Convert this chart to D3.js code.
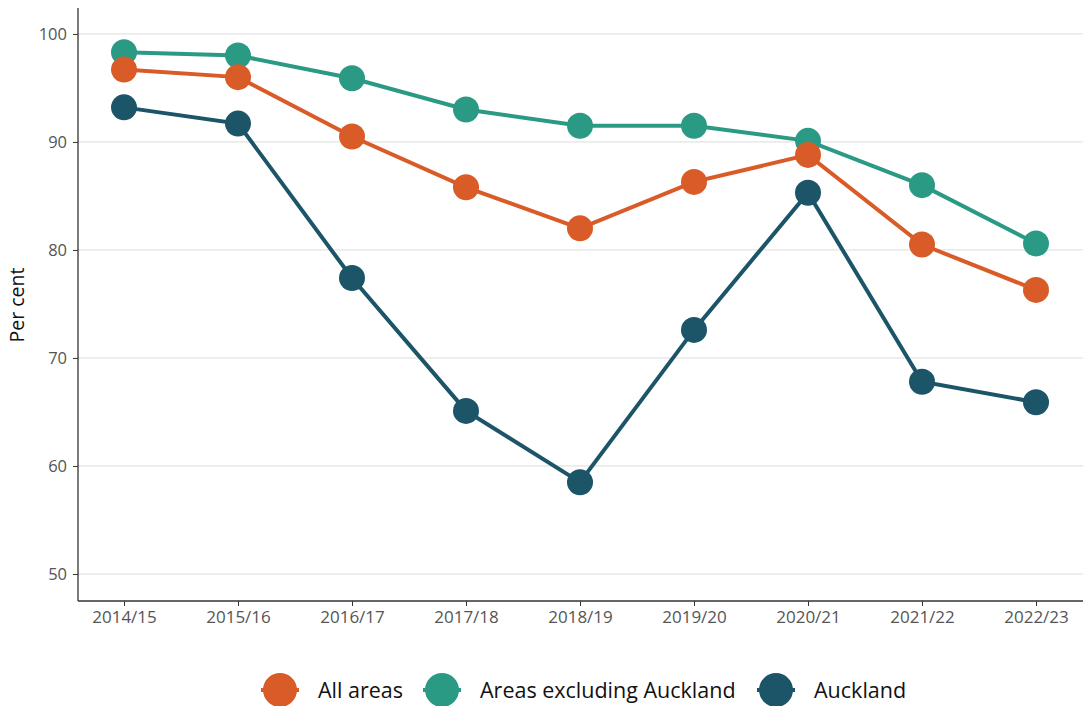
<!DOCTYPE html>
<html><head><meta charset="utf-8">
<script src="https://cdn.jsdelivr.net/npm/d3@7"></script>
<style>body{margin:0;background:#fff}svg{display:block}text{font-family:"Open Sans",sans-serif}</style>
</head><body><svg id="c" width="1083" height="706"></svg>
<script>
const categories=["2014/15","2015/16","2016/17","2017/18","2018/19","2019/20","2020/21","2021/22","2022/23"];
const allAreas=[96.7,96.0,90.5,85.8,82.0,86.3,88.8,80.5,76.3];
const exclAuckland=[98.3,98.0,95.9,93.0,91.5,91.5,90.1,86.0,80.6];
const auckland=[93.2,91.7,77.4,65.1,58.5,72.6,85.3,67.8,65.9];
const yTicks=[50,60,70,80,90,100];
const seriesNames=["All areas","Areas excluding Auckland","Auckland"];
const colors=["#D95B28","#2B9A85","#1C5468"];
const series=[allAreas,exclAuckland,auckland];

const svg=d3.select("#c");
const L=78,R=1083,T=8,B=601;
const x=d3.scalePoint().domain(categories).range([124,1036]);
const y=d3.scaleLinear().domain([47.5,102.4]).range([B,T]);

svg.append("g").selectAll("line").data(yTicks).join("line")
 .attr("x1",L).attr("x2",R).attr("y1",d=>y(d)).attr("y2",d=>y(d))
 .attr("stroke","#dcdcdc").attr("stroke-width",1);

const ya=svg.append("g").attr("transform",`translate(${L},0)`)
 .call(d3.axisLeft(y).tickValues(yTicks).tickSize(5).tickPadding(6));
ya.select(".domain").remove();
ya.selectAll(".tick line").attr("stroke","#333");
ya.selectAll("text").attr("font-size",16.5).attr("fill","#555");

const xa=svg.append("g").attr("transform",`translate(0,${B})`)
 .call(d3.axisBottom(x).tickSize(5).tickPadding(5));
xa.select(".domain").remove();
xa.selectAll(".tick line").attr("stroke","#333");
xa.selectAll("text").attr("font-size",17).attr("fill","#555");

svg.append("line").attr("x1",L).attr("x2",L).attr("y1",T).attr("y2",B).attr("stroke","#333").attr("stroke-width",1.3);
svg.append("line").attr("x1",L).attr("x2",R).attr("y1",B).attr("y2",B).attr("stroke","#333").attr("stroke-width",1.3);

svg.append("text").attr("transform","translate(24,305) rotate(-90)").attr("text-anchor","middle")
 .attr("font-size",19.5).attr("fill","#111").text("Per cent");

const line=d3.line().x((d,i)=>x(categories[i])).y(d=>y(d));
const order=[2,1,0];
order.forEach(k=>{
  const g=svg.append("g");
  g.append("path").datum(series[k]).attr("d",line).attr("fill","none").attr("stroke",colors[k]).attr("stroke-width",4);
  g.selectAll("circle").data(series[k]).join("circle")
   .attr("cx",(d,i)=>x(categories[i])).attr("cy",d=>y(d)).attr("r",13).attr("fill",colors[k]);
});

const legX=[280,442,776];
const lg=svg.append("g");
seriesNames.forEach((n,i)=>{
  lg.append("line").attr("x1",legX[i]-19).attr("x2",legX[i]+19).attr("y1",690).attr("y2",690).attr("stroke",colors[i]).attr("stroke-width",4);
  lg.append("circle").attr("cx",legX[i]).attr("cy",690).attr("r",17).attr("fill",colors[i]);
  lg.append("text").attr("x",legX[i]+38).attr("y",698).attr("font-size",21.5).attr("fill","#111").text(n);
});
</script></body></html>
